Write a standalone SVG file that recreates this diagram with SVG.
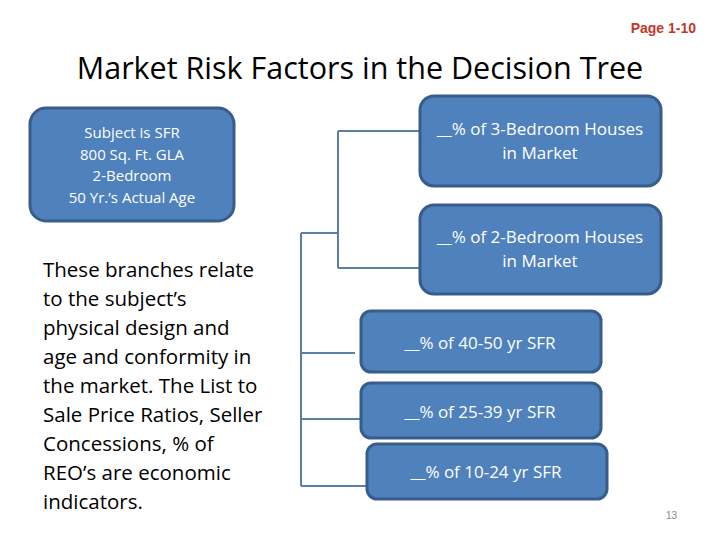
<svg xmlns="http://www.w3.org/2000/svg" width="720" height="540" viewBox="0 0 720 540">
<style>
.box{fill:#4f81bd;stroke:#385d8a;stroke-width:3}
.bt{fill:#fff;font-family:"Open Sans","Liberation Sans",sans-serif;text-anchor:middle}
.c{stroke:#5b7fa3;stroke-width:2;fill:none}
.p{font-family:"Open Sans","Liberation Sans",sans-serif;font-size:20.5px;fill:#000}
</style>
<rect width="720" height="540" fill="#fff"/>
<text x="696" y="33" text-anchor="end" font-family="Liberation Sans,sans-serif" font-weight="bold" font-size="14" fill="#c0392b">Page 1-10</text>
<text x="360" y="79" text-anchor="middle" font-family="Open Sans,Liberation Sans,sans-serif" font-size="30.5" fill="#000">Market Risk Factors in the Decision Tree</text>
<g id="connectors" class="c">
<path d="M301 233V486M301 233H338M338 131V268M338 131H420M338 268H420M301 353H355M301 419H362M301 486H368"/>
</g>
<g id="subject"><rect class="box" x="30" y="108" width="204" height="113" rx="16"/>
<text class="bt" font-size="15"><tspan x="132" y="138">Subject  is SFR</tspan><tspan x="132" y="160">800 Sq. Ft. GLA</tspan><tspan x="132" y="181">2-Bedroom</tspan><tspan x="132" y="203">50 Yr.’s Actual Age</tspan></text></g>
<g id="n3br"><rect class="box" x="420" y="96" width="241" height="90" rx="14"/>
<text class="bt" font-size="17"><tspan x="540" y="135">__% of 3-Bedroom Houses</tspan><tspan x="540" y="159">in Market</tspan></text></g>
<g id="n2br"><rect class="box" x="420" y="205" width="241" height="89" rx="14"/>
<text class="bt" font-size="17"><tspan x="540" y="243">__% of 2-Bedroom Houses</tspan><tspan x="540" y="267">in Market</tspan></text></g>
<g id="n4050"><rect class="box" x="361" y="311" width="240" height="61" rx="10"/>
<text class="bt" font-size="17" x="480" y="349">__% of 40-50 yr SFR</text></g>
<g id="n2539"><rect class="box" x="361" y="383" width="240" height="55" rx="10"/>
<text class="bt" font-size="17" x="480" y="418">__% of 25-39 yr SFR</text></g>
<g id="n1024"><rect class="box" x="367" y="444" width="240" height="55" rx="10"/>
<text class="bt" font-size="17" x="486" y="478">__% of 10-24 yr SFR</text></g>
<text class="p"><tspan x="43" y="277">These branches relate</tspan><tspan x="43" y="306">to the subject’s</tspan><tspan x="43" y="335">physical design and</tspan><tspan x="43" y="364">age and conformity in</tspan><tspan x="43" y="393">the market.  The List to</tspan><tspan x="43" y="422">Sale Price Ratios, Seller</tspan><tspan x="43" y="451">Concessions, % of</tspan><tspan x="43" y="480">REO’s are economic</tspan><tspan x="43" y="509">indicators.</tspan></text>
<text x="677" y="519" text-anchor="end" font-family="Liberation Sans,sans-serif" font-size="10" fill="#888">13</text>
</svg>
